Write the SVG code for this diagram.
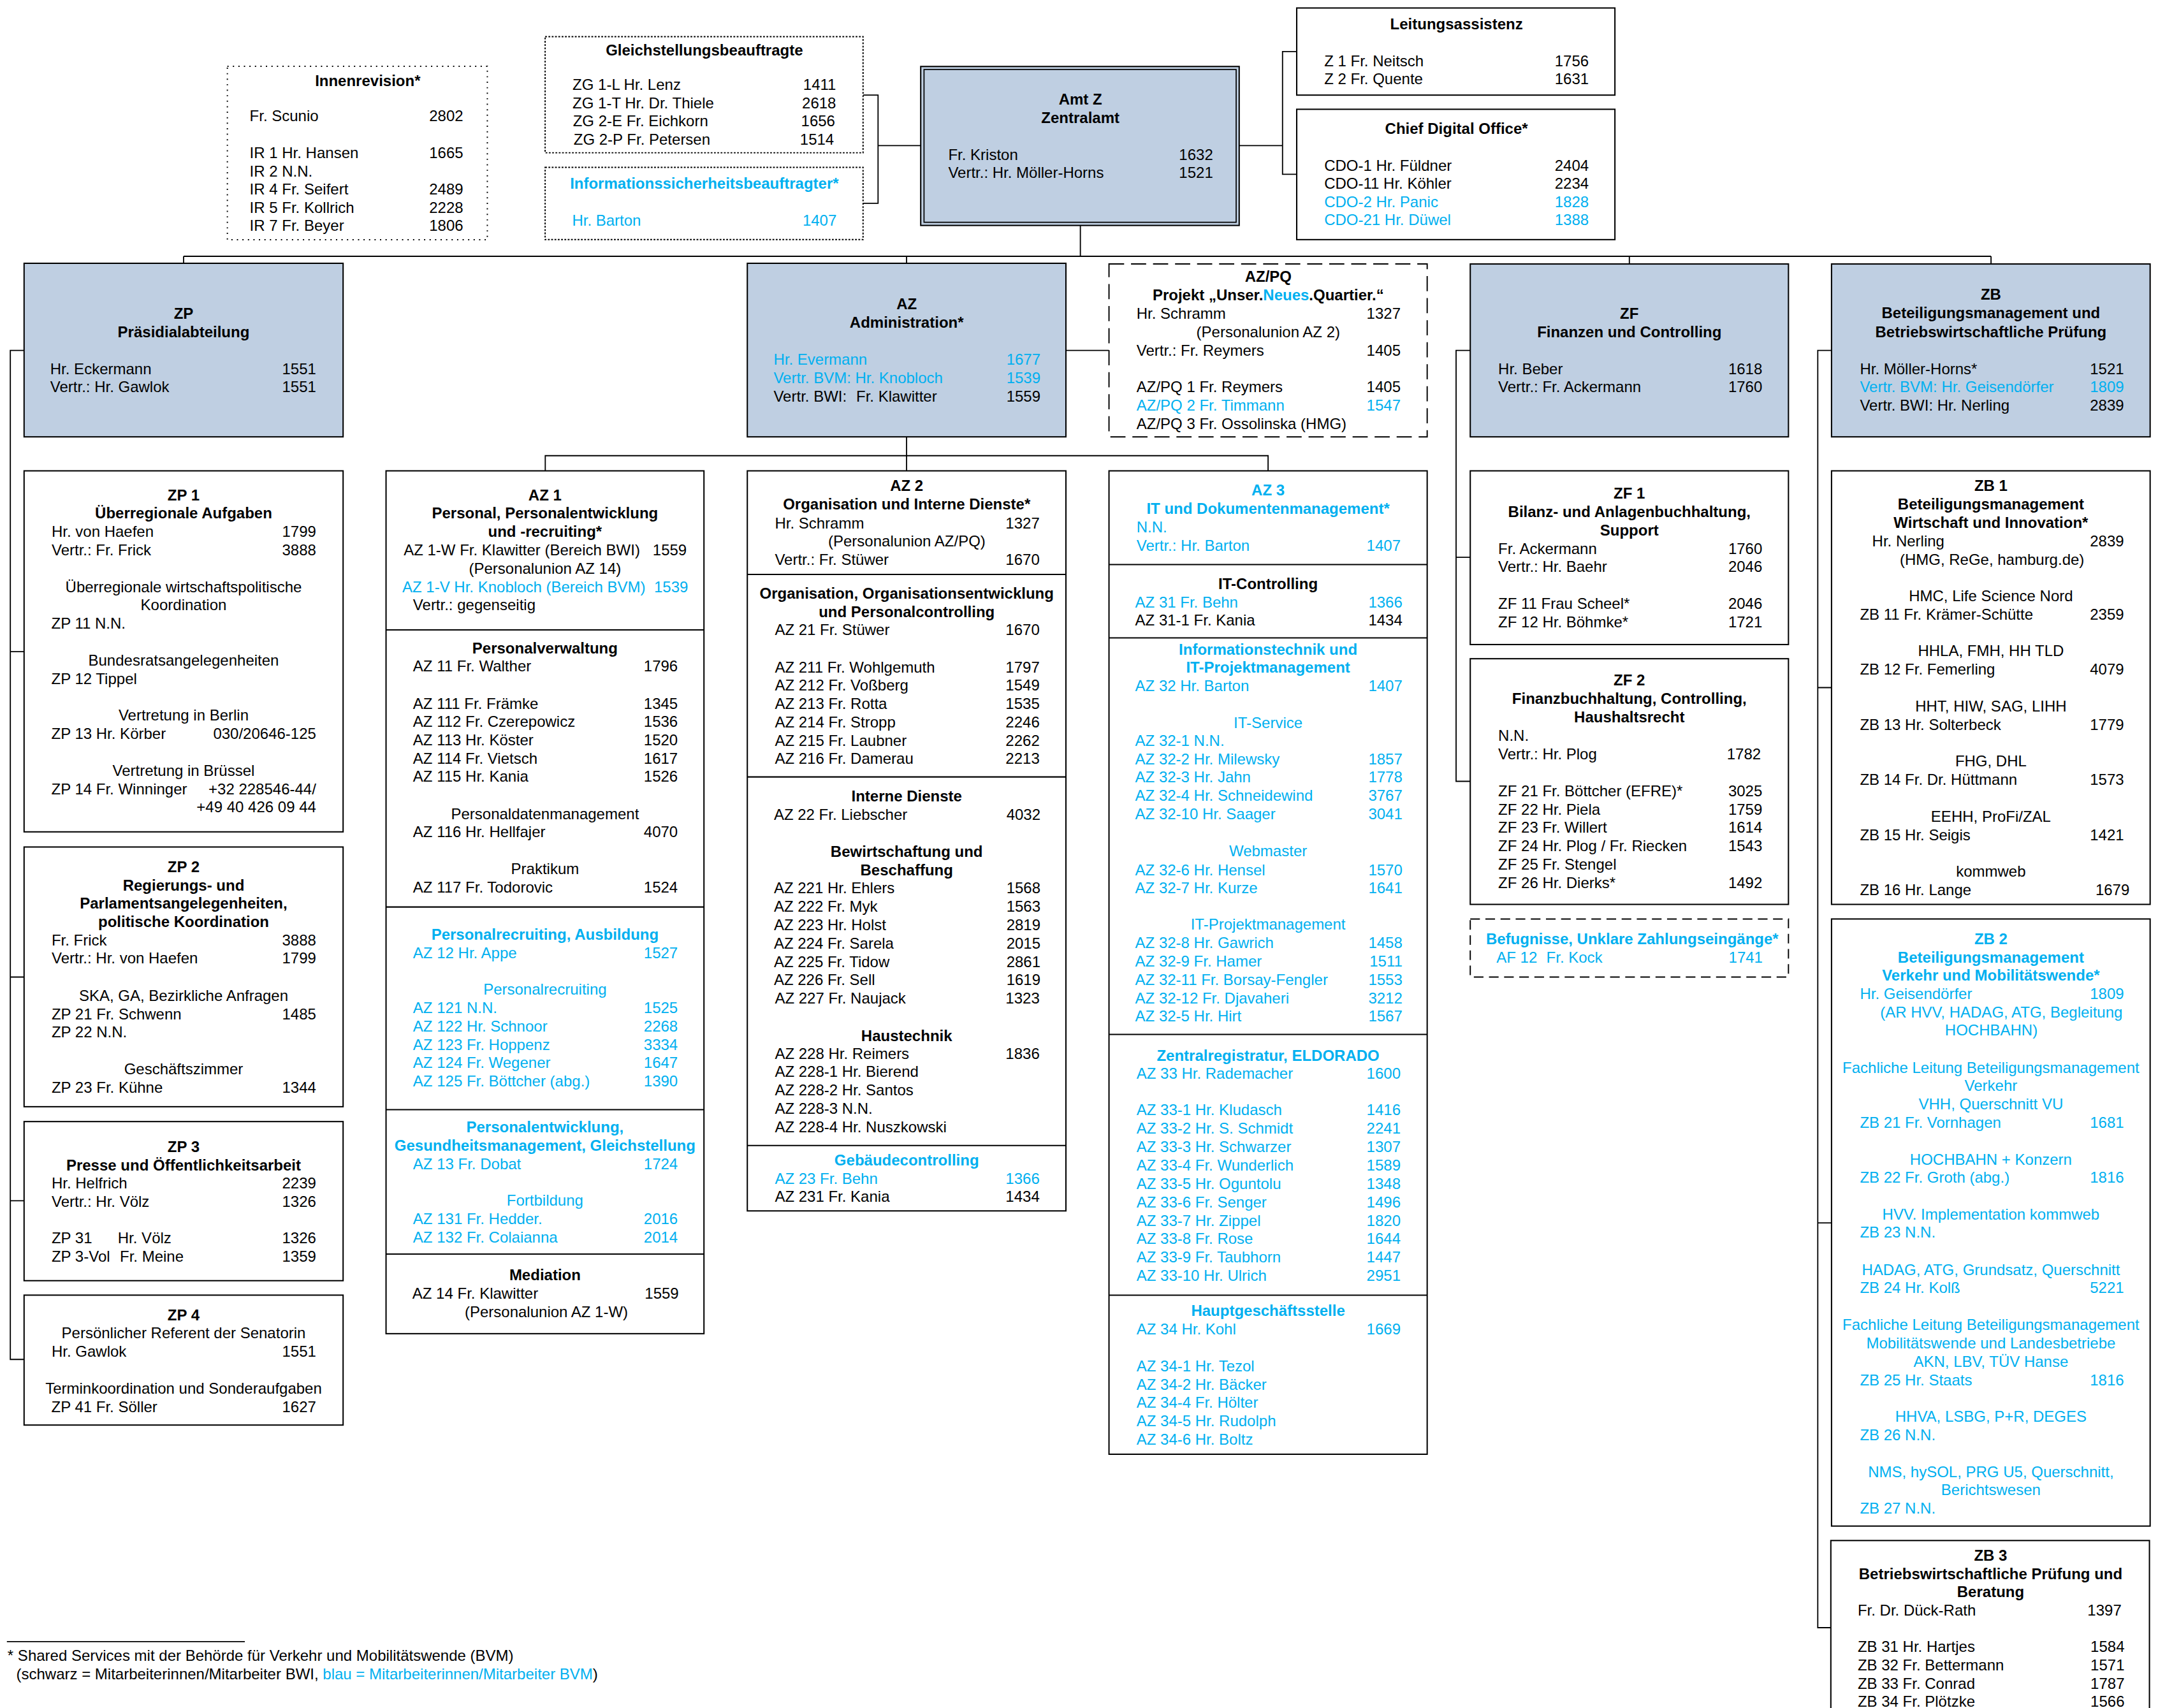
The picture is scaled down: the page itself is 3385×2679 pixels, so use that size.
<svg xmlns="http://www.w3.org/2000/svg" width="3385" height="2679" viewBox="0 0 3385 2679">
<style>
.bx{fill:#fff;stroke:#000;stroke-width:0.95}
.fl{fill:#BFCFE2;stroke:#000;stroke-width:0.95}
.d1{fill:#fff;stroke:#000;stroke-width:0.9;stroke-dasharray:0.9 3.1}
.d2{fill:#fff;stroke:#000;stroke-width:0.9;stroke-dasharray:1.3 1.1}
.d3{fill:#fff;stroke:#000;stroke-width:0.9;stroke-dasharray:11 5}
.d4{fill:#fff;stroke:#000;stroke-width:0.9;stroke-dasharray:7 4}
.dv{stroke:#000;stroke-width:0.95}
#connectors path{fill:none;stroke:#000;stroke-width:0.85}
text{font-family:"Liberation Sans",Arial,Helvetica,sans-serif;font-size:11.12px;fill:#000}
.b{font-weight:bold}
.c{text-anchor:middle}
.r{text-anchor:end}
.u{fill:#00B0F0}
</style>
<rect width="3385" height="2679" fill="#fff"/>
<g transform="scale(2.15878)">

<g id="connectors">
<path d="M133.4,186.2H1446.7M785,163.8V186.2M133.4,186.2V191.3M658.7,186.2V191.3M1183.9,186.2V191.8M1446.7,186.2V191.8"/>
<path d="M627.1,69.1H638V147.7H627.1M638,105.8H669"/>
<path d="M900.4,105.8H931.9M942.2,37.5H931.9V126.6H942.2"/>
<path d="M774.5,254.6H805.8"/>
<path d="M658.7,317.4V342.1M396.2,342.1V331.1H921.4V342.1"/>
<path d="M17.5,254.6H7.5V987.7H17.5M7.5,473.5H17.5M7.5,709.9H17.5M7.5,872.4H17.5"/>
<path d="M1068.3,254.6H1058V567.7H1068.3M1058,404.9H1068.3"/>
<path d="M1330.8,254.6H1320.8V1182.6H1330.3M1320.8,499.6H1330.8M1320.8,888.5H1330.8"/>
</g>

<g id="innenrevision">
<rect class="d1" x="165.2" y="48.2" width="188.9" height="126"/>
<text class="b c" x="267.2" y="62.5">Innenrevision*</text>
<text x="181.4" y="87.8">Fr. Scunio</text><text class="r" x="336.6" y="87.8">2802</text>
<text x="181.4" y="114.8">IR 1 Hr. Hansen</text><text class="r" x="336.6" y="114.8">1665</text>
<text x="181.4" y="128.1">IR 2 N.N.</text>
<text x="181.4" y="141.3">IR 4 Fr. Seifert</text><text class="r" x="336.6" y="141.3">2489</text>
<text x="181.4" y="154.6">IR 5 Fr. Kollrich</text><text class="r" x="336.6" y="154.6">2228</text>
<text x="181.4" y="167.8">IR 7 Fr. Beyer</text><text class="r" x="336.6" y="167.8">1806</text>
</g>

<g id="gleichstellung">
<rect class="d2" x="396.1" y="26.6" width="231" height="84.4"/>
<text class="b c" x="511.8" y="40.1">Gleichstellungsbeauftragte</text>
<text x="416" y="65.4">ZG 1-L Hr. Lenz</text><text class="r" x="607.5" y="65.4">1411</text>
<text x="416" y="78.7">ZG 1-T Hr. Dr. Thiele</text><text class="r" x="607.5" y="78.7">2618</text>
<text x="416.3" y="91.9">ZG 2-E Fr. Eichkorn</text><text class="r" x="606.8" y="91.9">1656</text>
<text x="416.8" y="105.2">ZG 2-P Fr. Petersen</text><text class="r" x="606" y="105.2">1514</text>
</g>

<g id="infosicherheit">
<rect class="d2" x="396.1" y="121.6" width="231" height="52.5"/>
<text class="b c u" x="511.8" y="137.2">Informationssicherheitsbeauftragter*</text>
<text class="u" x="415.7" y="164.1">Hr. Barton</text><text class="r u" x="607.9" y="164.1">1407</text>
</g>

<g id="amt-z">
<rect class="fl" x="669" y="48.3" width="231.4" height="115.5"/>
<rect fill="none" stroke="#000" stroke-width="0.8" x="671.4" y="50.5" width="226.8" height="111"/>
<text class="b c" x="785" y="76">Amt Z</text>
<text class="b c" x="785" y="89.3">Zentralamt</text>
<text x="689" y="116.1">Fr. Kriston</text><text class="r" x="881.4" y="116.1">1632</text>
<text x="689" y="129.4">Vertr.: Hr. Möller-Horns</text><text class="r" x="881.4" y="129.4">1521</text>
</g>

<g id="leitungsassistenz">
<rect class="bx" x="942.2" y="5.8" width="231.2" height="63.3"/>
<text class="b c" x="1058.3" y="21.1">Leitungsassistenz</text>
<text x="962.2" y="48">Z 1 Fr. Neitsch</text><text class="r" x="1154.4" y="48">1756</text>
<text x="962.2" y="61.3">Z 2 Fr. Quente</text><text class="r" x="1154.4" y="61.3">1631</text>
</g>

<g id="cdo">
<rect class="bx" x="942.2" y="79.4" width="231.2" height="94.7"/>
<text class="b c" x="1058.3" y="97.1">Chief Digital Office*</text>
<text x="962.2" y="124">CDO-1 Hr. Füldner</text><text class="r" x="1154.4" y="124">2404</text>
<text x="962.2" y="137.2">CDO-11 Hr. Köhler</text><text class="r" x="1154.4" y="137.2">2234</text>
<text class="u" x="962.2" y="150.5">CDO-2 Hr. Panic</text><text class="r u" x="1154.4" y="150.5">1828</text>
<text class="u" x="962.2" y="163.7">CDO-21 Hr. Düwel</text><text class="r u" x="1154.4" y="163.7">1388</text>
</g>

<g id="zp">
<rect class="fl" x="17.5" y="191.3" width="231.8" height="126.1"/>
<text class="b c" x="133.4" y="231.6">ZP</text>
<text class="b c" x="133.4" y="245">Präsidialabteilung</text>
<text x="36.5" y="271.7">Hr. Eckermann</text><text class="r" x="229.7" y="271.7">1551</text>
<text x="36.5" y="284.9">Vertr.: Hr. Gawlok</text><text class="r" x="229.7" y="284.9">1551</text>
</g>

<g id="zp1">
<rect class="bx" x="17.5" y="342.1" width="231.8" height="262.3"/>
<text class="b c" x="133.4" y="363.5">ZP 1</text>
<text class="b c" x="133.4" y="376.8">Überregionale Aufgaben</text>
<text x="37.5" y="390">Hr. von Haefen</text><text class="r" x="229.7" y="390">1799</text>
<text x="37.5" y="403.3">Vertr.: Fr. Frick</text><text class="r" x="229.7" y="403.3">3888</text>
<text class="c" x="133.4" y="430.3">Überregionale wirtschaftspolitische</text>
<text class="c" x="133.4" y="443.5">Koordination</text>
<text x="37.3" y="456.8">ZP 11 N.N.</text>
<text class="c" x="133.4" y="483.6">Bundesratsangelegenheiten</text>
<text x="37.3" y="496.9">ZP 12 Tippel</text>
<text class="c" x="133.4" y="523.6">Vertretung in Berlin</text>
<text x="37.3" y="536.9">ZP 13 Hr. Körber</text><text class="r" x="229.7" y="536.9">030/20646-125</text>
<text class="c" x="133.4" y="563.8">Vertretung in Brüssel</text>
<text x="37.3" y="577">ZP 14 Fr. Winninger</text><text class="r" x="229.7" y="577">+32 228546-44/</text>
<text class="r" x="229.7" y="590.3">+49 40 426 09 44</text>
</g>

<g id="zp2">
<rect class="bx" x="17.5" y="615.4" width="231.8" height="188.7"/>
<text class="b c" x="133.4" y="633.7">ZP 2</text>
<text class="b c" x="133.4" y="647">Regierungs- und</text>
<text class="b c" x="133.4" y="660.2">Parlamentsangelegenheiten,</text>
<text class="b c" x="133.4" y="673.5">politische Koordination</text>
<text x="37.5" y="686.8">Fr. Frick</text><text class="r" x="229.7" y="686.8">3888</text>
<text x="37.5" y="700">Vertr.: Hr. von Haefen</text><text class="r" x="229.7" y="700">1799</text>
<text class="c" x="133.4" y="727.4">SKA, GA, Bezirkliche Anfragen</text>
<text x="37.5" y="740.5">ZP 21 Fr. Schwenn</text><text class="r" x="229.7" y="740.5">1485</text>
<text x="37.5" y="753.8">ZP 22 N.N.</text>
<text class="c" x="133.4" y="780.6">Geschäftszimmer</text>
<text x="37.5" y="793.9">ZP 23 Fr. Kühne</text><text class="r" x="229.7" y="793.9">1344</text>
</g>

<g id="zp3">
<rect class="bx" x="17.5" y="814.9" width="231.8" height="115.6"/>
<text class="b c" x="133.4" y="837.1">ZP 3</text>
<text class="b c" x="133.4" y="850.3">Presse und Öffentlichkeitsarbeit</text>
<text x="37.5" y="863.6">Hr. Helfrich</text><text class="r" x="229.7" y="863.6">2239</text>
<text x="37.5" y="876.9">Vertr.: Hr. Völz</text><text class="r" x="229.7" y="876.9">1326</text>
<text x="37.5" y="903.5">ZP 31<tspan x="85.6">Hr. Völz</tspan></text><text class="r" x="229.7" y="903.5">1326</text>
<text x="37.5" y="916.8">ZP 3-Vol<tspan x="87.1">Fr. Meine</tspan></text><text class="r" x="229.7" y="916.8">1359</text>
</g>

<g id="zp4">
<rect class="bx" x="17.5" y="941" width="231.8" height="94.4"/>
<text class="b c" x="133.4" y="959.2">ZP 4</text>
<text class="c" x="133.4" y="972.5">Persönlicher Referent der Senatorin</text>
<text x="37.5" y="985.8">Hr. Gawlok</text><text class="r" x="229.7" y="985.8">1551</text>
<text class="c" x="133.4" y="1012.6">Terminkoordination und Sonderaufgaben</text>
<text x="37.3" y="1025.9">ZP 41 Fr. Söller</text><text class="r" x="229.7" y="1025.9">1627</text>
</g>

<g id="az">
<rect class="fl" x="543" y="191.3" width="231.5" height="126.1"/>
<text class="b c" x="658.8" y="224.8">AZ</text>
<text class="b c" x="658.8" y="238.1">Administration*</text>
<text class="u" x="562.1" y="265.1">Hr. Evermann</text><text class="r u" x="756" y="265.1">1677</text>
<text class="u" x="562.1" y="278.4">Vertr. BVM: Hr. Knobloch</text><text class="r u" x="756" y="278.4">1539</text>
<text x="562.1" y="291.6">Vertr. BWI:<tspan x="622.1">Fr. Klawitter</tspan></text><text class="r" x="756" y="291.6">1559</text>
</g>

<g id="az1">
<rect class="bx" x="280.5" y="342.1" width="231" height="626.9"/>
<line class="dv" x1="280.5" y1="457.7" x2="511.5" y2="457.7"/>
<line class="dv" x1="280.5" y1="659" x2="511.5" y2="659"/>
<line class="dv" x1="280.5" y1="806.2" x2="511.5" y2="806.2"/>
<line class="dv" x1="280.5" y1="911.2" x2="511.5" y2="911.2"/>
<text class="b c" x="396" y="363.5">AZ 1</text>
<text class="b c" x="396" y="376.8">Personal, Personalentwicklung</text>
<text class="b c" x="396" y="390.1">und -recruiting*</text>
<text x="293.3" y="403.6">AZ 1-W Fr. Klawitter (Bereich BWI)</text><text class="r" x="499" y="403.6">1559</text>
<text class="c" x="396" y="416.9">(Personalunion AZ 14)</text>
<text class="u" x="292.3" y="430.2">AZ 1-V Hr. Knobloch (Bereich BVM)</text><text class="r u" x="500" y="430.2">1539</text>
<text x="300.1" y="443.5">Vertr.: gegenseitig</text>
<text class="b c" x="396" y="474.6">Personalverwaltung</text>
<text x="300.1" y="488">AZ 11 Fr. Walther</text><text class="r" x="492.5" y="488">1796</text>
<text x="300.1" y="514.9">AZ 111 Fr. Främke</text><text class="r" x="492.5" y="514.9">1345</text>
<text x="300.1" y="528.2">AZ 112 Fr. Czerepowicz</text><text class="r" x="492.5" y="528.2">1536</text>
<text x="300.1" y="541.5">AZ 113 Hr. Köster</text><text class="r" x="492.5" y="541.5">1520</text>
<text x="300.1" y="554.8">AZ 114 Fr. Vietsch</text><text class="r" x="492.5" y="554.8">1617</text>
<text x="300.1" y="568.1">AZ 115 Hr. Kania</text><text class="r" x="492.5" y="568.1">1526</text>
<text class="c" x="396" y="595.1">Personaldatenmanagement</text>
<text x="300.1" y="608.4">AZ 116 Hr. Hellfajer</text><text class="r" x="492.5" y="608.4">4070</text>
<text class="c" x="396" y="635.3">Praktikum</text>
<text x="300.1" y="648.4">AZ 117 Fr. Todorovic</text><text class="r" x="492.5" y="648.4">1524</text>
<text class="b c u" x="396" y="682.7">Personalrecruiting, Ausbildung</text>
<text class="u" x="300.1" y="696.1">AZ 12 Hr. Appe</text><text class="r u" x="492.5" y="696.1">1527</text>
<text class="c u" x="396" y="722.8">Personalrecruiting</text>
<text class="u" x="300.1" y="736">AZ 121 N.N.</text><text class="r u" x="492.5" y="736">1525</text>
<text class="u" x="300.1" y="749.4">AZ 122 Hr. Schnoor</text><text class="r u" x="492.5" y="749.4">2268</text>
<text class="u" x="300.1" y="762.7">AZ 123 Fr. Hoppenz</text><text class="r u" x="492.5" y="762.7">3334</text>
<text class="u" x="300.1" y="776">AZ 124 Fr. Wegener</text><text class="r u" x="492.5" y="776">1647</text>
<text class="u" x="300.1" y="789.4">AZ 125 Fr. Böttcher (abg.)</text><text class="r u" x="492.5" y="789.4">1390</text>
<text class="b c u" x="396" y="822.8">Personalentwicklung,</text>
<text class="b c u" x="396" y="836.2">Gesundheitsmanagement, Gleichstellung</text>
<text class="u" x="300.1" y="849.5">AZ 13 Fr. Dobat</text><text class="r u" x="492.5" y="849.5">1724</text>
<text class="c u" x="396" y="876.1">Fortbildung</text>
<text class="u" x="300.1" y="889.6">AZ 131 Fr. Hedder.</text><text class="r u" x="492.5" y="889.6">2016</text>
<text class="u" x="300.1" y="902.8">AZ 132 Fr. Colaianna</text><text class="r u" x="492.5" y="902.8">2014</text>
<text class="b c" x="396" y="930.2">Mediation</text>
<text x="299.6" y="943.4">AZ 14 Fr. Klawitter</text><text class="r" x="493.2" y="943.4">1559</text>
<text class="c" x="397" y="956.8">(Personalunion AZ 1-W)</text>
</g>

<g id="az2">
<rect class="bx" x="543" y="342.1" width="231.5" height="537.7"/>
<line class="dv" x1="543" y1="417.4" x2="774.5" y2="417.4"/>
<line class="dv" x1="543" y1="564.5" x2="774.5" y2="564.5"/>
<line class="dv" x1="543" y1="832.3" x2="774.5" y2="832.3"/>
<text class="b c" x="658.8" y="356.9">AZ 2</text>
<text class="b c" x="658.8" y="370.3">Organisation und Interne Dienste*</text>
<text x="563" y="383.8">Hr. Schramm</text><text class="r" x="755.4" y="383.8">1327</text>
<text class="c" x="658.9" y="397.1">(Personalunion AZ/PQ)</text>
<text x="563" y="410.6">Vertr.: Fr. Stüwer</text><text class="r" x="755.4" y="410.6">1670</text>
<text class="b c" x="658.8" y="434.8">Organisation, Organisationsentwicklung</text>
<text class="b c" x="658.8" y="448.2">und Personalcontrolling</text>
<text x="563" y="461.6">AZ 21 Fr. Stüwer</text><text class="r" x="755.4" y="461.6">1670</text>
<text x="563" y="488.6">AZ 211 Fr. Wohlgemuth</text><text class="r" x="755.4" y="488.6">1797</text>
<text x="563" y="501.9">AZ 212 Fr. Voßberg</text><text class="r" x="755.4" y="501.9">1549</text>
<text x="563" y="515.2">AZ 213 Fr. Rotta</text><text class="r" x="755.4" y="515.2">1535</text>
<text x="563" y="528.5">AZ 214 Fr. Stropp</text><text class="r" x="755.4" y="528.5">2246</text>
<text x="563" y="541.8">AZ 215 Fr. Laubner</text><text class="r" x="755.4" y="541.8">2262</text>
<text x="563" y="555.1">AZ 216 Fr. Damerau</text><text class="r" x="755.4" y="555.1">2213</text>
<text class="b c" x="658.8" y="582.5">Interne Dienste</text>
<text x="562.3" y="595.7">AZ 22 Fr. Liebscher</text><text class="r" x="756" y="595.7">4032</text>
<text class="b c" x="658.8" y="622.6">Bewirtschaftung und</text>
<text class="b c" x="658.8" y="636">Beschaffung</text>
<text x="562.3" y="649.2">AZ 221 Hr. Ehlers</text><text class="r" x="756" y="649.2">1568</text>
<text x="562.3" y="662.6">AZ 222 Fr. Myk</text><text class="r" x="756" y="662.6">1563</text>
<text x="562.3" y="675.9">AZ 223 Hr. Holst</text><text class="r" x="756" y="675.9">2819</text>
<text x="562.3" y="689.2">AZ 224 Fr. Sarela</text><text class="r" x="756" y="689.2">2015</text>
<text x="562.3" y="702.6">AZ 225 Fr. Tidow</text><text class="r" x="756" y="702.6">2861</text>
<text x="562.3" y="715.9">AZ 226 Fr. Sell</text><text class="r" x="756" y="715.9">1619</text>
<text x="563" y="729.3">AZ 227 Fr. Naujack</text><text class="r" x="755.4" y="729.3">1323</text>
<text class="b c" x="658.8" y="756.3">Haustechnik</text>
<text x="563" y="769.3">AZ 228 Hr. Reimers</text><text class="r" x="755.4" y="769.3">1836</text>
<text x="563" y="782.6">AZ 228-1 Hr. Bierend</text>
<text x="563" y="795.9">AZ 228-2 Hr. Santos</text>
<text x="563" y="809.2">AZ 228-3 N.N.</text>
<text x="563" y="822.5">AZ 228-4 Hr. Nuszkowski</text>
<text class="b c u" x="658.8" y="846.8">Gebäudecontrolling</text>
<text class="u" x="563" y="860.3">AZ 23 Fr. Behn</text><text class="r u" x="755.4" y="860.3">1366</text>
<text x="563" y="873.2">AZ 231 Fr. Kania</text><text class="r" x="755.4" y="873.2">1434</text>
</g>

<g id="az-pq">
<rect class="d3" x="805.8" y="191.8" width="231.2" height="125.6"/>
<text class="b c" x="921.5" y="204.7">AZ/PQ</text>
<text class="b c" x="921.5" y="218.2">Projekt „Unser.<tspan class="u">Neues</tspan>.Quartier.“</text>
<text x="825.8" y="231.6">Hr. Schramm</text><text class="r" x="1017.7" y="231.6">1327</text>
<text class="c" x="921.5" y="245.1">(Personalunion AZ 2)</text>
<text x="825.8" y="258.5">Vertr.: Fr. Reymers</text><text class="r" x="1017.7" y="258.5">1405</text>
<text x="825.8" y="284.9">AZ/PQ 1 Fr. Reymers</text><text class="r" x="1017.7" y="284.9">1405</text>
<text class="u" x="825.8" y="298.4">AZ/PQ 2 Fr. Timmann</text><text class="r u" x="1017.7" y="298.4">1547</text>
<text x="825.8" y="311.8">AZ/PQ 3 Fr. Ossolinska (HMG)</text>
</g>

<g id="az3">
<rect class="bx" x="805.8" y="342.1" width="231.2" height="714.5"/>
<line class="dv" x1="805.8" y1="410.2" x2="1037" y2="410.2"/>
<line class="dv" x1="805.8" y1="463.5" x2="1037" y2="463.5"/>
<line class="dv" x1="805.8" y1="751.6" x2="1037" y2="751.6"/>
<line class="dv" x1="805.8" y1="941" x2="1037" y2="941"/>
<text class="b c u" x="921.4" y="360.1">AZ 3</text>
<text class="b c u" x="921.4" y="373.5">IT und Dokumentenmanagement*</text>
<text class="u" x="825.8" y="387">N.N.</text>
<text class="u" x="825.8" y="400.4">Vertr.: Hr. Barton</text><text class="r u" x="1017.7" y="400.4">1407</text>
<text class="b c" x="921.4" y="427.9">IT-Controlling</text>
<text class="u" x="824.8" y="441.4">AZ 31 Fr. Behn</text><text class="r u" x="1019" y="441.4">1366</text>
<text x="824.8" y="454.3">AZ 31-1 Fr. Kania</text><text class="r" x="1019" y="454.3">1434</text>
<text class="b c u" x="921.4" y="475.6">Informationstechnik und</text>
<text class="b c u" x="921.4" y="488.8">IT-Projektmanagement</text>
<text class="u" x="824.8" y="502">AZ 32 Hr. Barton</text><text class="r u" x="1019" y="502">1407</text>
<text class="c u" x="921.4" y="528.9">IT-Service</text>
<text class="u" x="824.8" y="542.1">AZ 32-1 N.N.</text>
<text class="u" x="824.8" y="555.4">AZ 32-2 Hr. Milewsky</text><text class="r u" x="1019" y="555.4">1857</text>
<text class="u" x="824.8" y="568.6">AZ 32-3 Hr. Jahn</text><text class="r u" x="1019" y="568.6">1778</text>
<text class="u" x="824.8" y="581.9">AZ 32-4 Hr. Schneidewind</text><text class="r u" x="1019" y="581.9">3767</text>
<text class="u" x="824.8" y="595.3">AZ 32-10 Hr. Saager</text><text class="r u" x="1019" y="595.3">3041</text>
<text class="c u" x="921.4" y="622.3">Webmaster</text>
<text class="u" x="824.8" y="635.8">AZ 32-6 Hr. Hensel</text><text class="r u" x="1019" y="635.8">1570</text>
<text class="u" x="824.8" y="649">AZ 32-7 Hr. Kurze</text><text class="r u" x="1019" y="649">1641</text>
<text class="c u" x="921.4" y="675.6">IT-Projektmanagement</text>
<text class="u" x="824.8" y="689">AZ 32-8 Hr. Gawrich</text><text class="r u" x="1019" y="689">1458</text>
<text class="u" x="824.8" y="702.3">AZ 32-9 Fr. Hamer</text><text class="r u" x="1019" y="702.3">1511</text>
<text class="u" x="824.8" y="715.6">AZ 32-11 Fr. Borsay-Fengler</text><text class="r u" x="1019" y="715.6">1553</text>
<text class="u" x="824.8" y="728.9">AZ 32-12 Fr. Djavaheri</text><text class="r u" x="1019" y="728.9">3212</text>
<text class="u" x="824.8" y="742.2">AZ 32-5 Hr. Hirt</text><text class="r u" x="1019" y="742.2">1567</text>
<text class="b c u" x="921.4" y="770.6">Zentralregistratur, ELDORADO</text>
<text class="u" x="825.8" y="784">AZ 33 Hr. Rademacher</text><text class="r u" x="1017.7" y="784">1600</text>
<text class="u" x="825.8" y="810.4">AZ 33-1 Hr. Kludasch</text><text class="r u" x="1017.7" y="810.4">1416</text>
<text class="u" x="825.8" y="823.8">AZ 33-2 Hr. S. Schmidt</text><text class="r u" x="1017.7" y="823.8">2241</text>
<text class="u" x="825.8" y="837.2">AZ 33-3 Hr. Schwarzer</text><text class="r u" x="1017.7" y="837.2">1307</text>
<text class="u" x="825.8" y="850.5">AZ 33-4 Fr. Wunderlich</text><text class="r u" x="1017.7" y="850.5">1589</text>
<text class="u" x="825.8" y="863.9">AZ 33-5 Hr. Oguntolu</text><text class="r u" x="1017.7" y="863.9">1348</text>
<text class="u" x="825.8" y="877.2">AZ 33-6 Fr. Senger</text><text class="r u" x="1017.7" y="877.2">1496</text>
<text class="u" x="825.8" y="890.6">AZ 33-7 Hr. Zippel</text><text class="r u" x="1017.7" y="890.6">1820</text>
<text class="u" x="825.8" y="903.9">AZ 33-8 Fr. Rose</text><text class="r u" x="1017.7" y="903.9">1644</text>
<text class="u" x="825.8" y="917.3">AZ 33-9 Fr. Taubhorn</text><text class="r u" x="1017.7" y="917.3">1447</text>
<text class="u" x="825.8" y="930.6">AZ 33-10 Hr. Ulrich</text><text class="r u" x="1017.7" y="930.6">2951</text>
<text class="b c u" x="921.4" y="956">Hauptgeschäftsstelle</text>
<text class="u" x="825.8" y="969.5">AZ 34 Hr. Kohl</text><text class="r u" x="1017.7" y="969.5">1669</text>
<text class="u" x="825.8" y="996.2">AZ 34-1 Hr. Tezol</text>
<text class="u" x="825.8" y="1009.6">AZ 34-2 Hr. Bäcker</text>
<text class="u" x="825.8" y="1023">AZ 34-4 Fr. Hölter</text>
<text class="u" x="825.8" y="1036.4">AZ 34-5 Hr. Rudolph</text>
<text class="u" x="825.8" y="1049.8">AZ 34-6 Hr. Boltz</text>
</g>

<g id="zf">
<rect class="fl" x="1068.3" y="191.8" width="231.2" height="125.6"/>
<text class="b c" x="1183.9" y="231.6">ZF</text>
<text class="b c" x="1183.9" y="245">Finanzen und Controlling</text>
<text x="1088.6" y="271.7">Hr. Beber</text><text class="r" x="1280.5" y="271.7">1618</text>
<text x="1088.6" y="284.9">Vertr.: Fr. Ackermann</text><text class="r" x="1280.5" y="284.9">1760</text>
</g>

<g id="zf1">
<rect class="bx" x="1068.3" y="342.1" width="231.2" height="126.2"/>
<text class="b c" x="1183.9" y="362.2">ZF 1</text>
<text class="b c" x="1183.9" y="375.6">Bilanz- und Anlagenbuchhaltung,</text>
<text class="b c" x="1183.9" y="389">Support</text>
<text x="1088.6" y="402.4">Fr. Ackermann</text><text class="r" x="1280.5" y="402.4">1760</text>
<text x="1088.6" y="415.7">Vertr.: Hr. Baehr</text><text class="r" x="1280.5" y="415.7">2046</text>
<text x="1088.6" y="442.6">ZF 11 Frau Scheel*</text><text class="r" x="1280.5" y="442.6">2046</text>
<text x="1088.6" y="455.9">ZF 12 Hr. Böhmke*</text><text class="r" x="1280.5" y="455.9">1721</text>
</g>

<g id="zf2">
<rect class="bx" x="1068.3" y="478.6" width="231.2" height="178.5"/>
<text class="b c" x="1183.9" y="498.1">ZF 2</text>
<text class="b c" x="1183.9" y="511.5">Finanzbuchhaltung, Controlling,</text>
<text class="b c" x="1183.9" y="524.9">Haushaltsrecht</text>
<text x="1088.6" y="538.3">N.N.</text>
<text x="1088.6" y="551.6">Vertr.: Hr. Plog</text><text class="r" x="1279.5" y="551.6">1782</text>
<text x="1088.6" y="578.5">ZF 21 Fr. Böttcher (EFRE)*</text><text class="r" x="1280.5" y="578.5">3025</text>
<text x="1088.6" y="591.8">ZF 22 Hr. Piela</text><text class="r" x="1280.5" y="591.8">1759</text>
<text x="1088.6" y="605.2">ZF 23 Fr. Willert</text><text class="r" x="1280.5" y="605.2">1614</text>
<text x="1088.6" y="618.5">ZF 24 Hr. Plog / Fr. Riecken</text><text class="r" x="1280.5" y="618.5">1543</text>
<text x="1088.6" y="631.9">ZF 25 Fr. Stengel</text>
<text x="1088.6" y="645.2">ZF 26 Hr. Dierks*</text><text class="r" x="1280.5" y="645.2">1492</text>
</g>

<g id="befugnisse">
<rect class="d4" x="1068.3" y="667.7" width="231.2" height="42.2"/>
<text class="b c u" x="1186" y="686.2">Befugnisse, Unklare Zahlungseingänge*</text>
<text class="u" x="1087.3" y="699.3">AF 12<tspan x="1123.6">Fr. Kock</tspan></text><text class="r u" x="1280.8" y="699.3">1741</text>
</g>

<g id="zb">
<rect class="fl" x="1330.8" y="191.8" width="231.5" height="125.6"/>
<text class="b c" x="1446.6" y="217.9">ZB</text>
<text class="b c" x="1446.6" y="231.3">Beteiligungsmanagement und</text>
<text class="b c" x="1446.6" y="244.9">Betriebswirtschaftliche Prüfung</text>
<text x="1351.4" y="271.7">Hr. Möller-Horns*</text><text class="r" x="1543.3" y="271.7">1521</text>
<text class="u" x="1351.4" y="284.9">Vertr. BVM: Hr. Geisendörfer</text><text class="r u" x="1543.3" y="284.9">1809</text>
<text x="1351.4" y="298.2">Vertr. BWI: Hr. Nerling</text><text class="r" x="1543.3" y="298.2">2839</text>
</g>

<g id="zb1">
<rect class="bx" x="1330.8" y="342.1" width="231.5" height="315"/>
<text class="b c" x="1446.6" y="356.7">ZB 1</text>
<text class="b c" x="1446.6" y="370.1">Beteiligungsmanagement</text>
<text class="b c" x="1446.6" y="383.5">Wirtschaft und Innovation*</text>
<text x="1360.3" y="396.8">Hr. Nerling</text><text class="r" x="1543.3" y="396.8">2839</text>
<text class="c" x="1447.4" y="410.2">(HMG, ReGe, hamburg.de)</text>
<text class="c" x="1446.6" y="436.9">HMC, Life Science Nord</text>
<text x="1351.4" y="450.1">ZB 11 Fr. Krämer-Schütte</text><text class="r" x="1543.3" y="450.1">2359</text>
<text class="c" x="1446.6" y="476.7">HHLA, FMH, HH TLD</text>
<text x="1351.4" y="490.2">ZB 12 Fr. Femerling</text><text class="r" x="1543.3" y="490.2">4079</text>
<text class="c" x="1446.6" y="516.8">HHT, HIW, SAG, LIHH</text>
<text x="1351.4" y="530.3">ZB 13 Hr. Solterbeck</text><text class="r" x="1543.3" y="530.3">1779</text>
<text class="c" x="1446.6" y="556.9">FHG, DHL</text>
<text x="1351.4" y="570.4">ZB 14 Fr. Dr. Hüttmann</text><text class="r" x="1543.3" y="570.4">1573</text>
<text class="c" x="1446.6" y="597">EEHH, ProFi/ZAL</text>
<text x="1351.4" y="610.4">ZB 15 Hr. Seigis</text><text class="r" x="1543.3" y="610.4">1421</text>
<text class="c" x="1446.6" y="637.1">kommweb</text>
<text x="1351.4" y="650.5">ZB 16 Hr. Lange</text><text class="r" x="1547.3" y="650.5">1679</text>
</g>

<g id="zb2">
<rect class="bx" x="1330.8" y="667.7" width="231.5" height="441.1"/>
<text class="b c u" x="1446.6" y="685.9">ZB 2</text>
<text class="b c u" x="1446.6" y="699.3">Beteiligungsmanagement</text>
<text class="b c u" x="1446.6" y="712.5">Verkehr und Mobilitätswende*</text>
<text class="u" x="1351.4" y="725.7">Hr. Geisendörfer</text><text class="r u" x="1543.3" y="725.7">1809</text>
<text class="c u" x="1454.2" y="739.2">(AR HVV, HADAG, ATG, Begleitung</text>
<text class="c u" x="1446.9" y="752.4">HOCHBAHN)</text>
<text class="c u" x="1446.6" y="779.5">Fachliche Leitung Beteiligungsmanagement</text>
<text class="c u" x="1446.6" y="792.7">Verkehr</text>
<text class="c u" x="1446.6" y="805.9">VHH, Querschnitt VU</text>
<text class="u" x="1351.4" y="819.4">ZB 21 Fr. Vornhagen</text><text class="r u" x="1543.3" y="819.4">1681</text>
<text class="c u" x="1446.6" y="846.3">HOCHBAHN + Konzern</text>
<text class="u" x="1351.4" y="859.5">ZB 22 Fr. Groth (abg.)</text><text class="r u" x="1543.3" y="859.5">1816</text>
<text class="c u" x="1446.6" y="886.1">HVV. Implementation kommweb</text>
<text class="u" x="1351.4" y="899.3">ZB 23 N.N.</text>
<text class="c u" x="1446.6" y="926.3">HADAG, ATG, Grundsatz, Querschnitt</text>
<text class="u" x="1351.4" y="939.4">ZB 24 Hr. Kolß</text><text class="r u" x="1543.3" y="939.4">5221</text>
<text class="c u" x="1446.6" y="966.3">Fachliche Leitung Beteiligungsmanagement</text>
<text class="c u" x="1446.6" y="979.5">Mobilitätswende und Landesbetriebe</text>
<text class="c u" x="1446.6" y="993">AKN, LBV, TÜV Hanse</text>
<text class="u" x="1351.4" y="1006.4">ZB 25 Hr. Staats</text><text class="r u" x="1543.3" y="1006.4">1816</text>
<text class="c u" x="1446.6" y="1032.8">HHVA, LSBG, P+R, DEGES</text>
<text class="u" x="1351.4" y="1046.3">ZB 26 N.N.</text>
<text class="c u" x="1446.6" y="1073.2">NMS, hySOL, PRG U5, Querschnitt,</text>
<text class="c u" x="1446.6" y="1086.4">Berichtswesen</text>
<text class="u" x="1351.4" y="1099.5">ZB 27 N.N.</text>
</g>

<g id="zb3">
<rect class="bx" x="1330.3" y="1119.3" width="231.5" height="140"/>
<text class="b c" x="1446.4" y="1133.8">ZB 3</text>
<text class="b c" x="1446.4" y="1147.3">Betriebswirtschaftliche Prüfung und</text>
<text class="b c" x="1446.4" y="1160.4">Beratung</text>
<text x="1349.8" y="1173.7">Fr. Dr. Dück-Rath</text><text class="r" x="1541.5" y="1173.7">1397</text>
<text x="1349.8" y="1200.3">ZB 31 Hr. Hartjes</text><text class="r" x="1543.7" y="1200.3">1584</text>
<text x="1349.8" y="1213.6">ZB 32 Fr. Bettermann</text><text class="r" x="1543.7" y="1213.6">1571</text>
<text x="1349.8" y="1226.9">ZB 33 Fr. Conrad</text><text class="r" x="1543.7" y="1226.9">1787</text>
<text x="1349.8" y="1240.2">ZB 34 Fr. Plötzke</text><text class="r" x="1543.7" y="1240.2">1566</text>
</g>

<g id="footnote">
<line x1="5" y1="1192.7" x2="177.9" y2="1192.7" stroke="#000" stroke-width="0.8"/>
<text x="5.5" y="1206.7">* Shared Services mit der Behörde für Verkehr und Mobilitätswende (BVM)</text>
<text x="11.8" y="1220.1">(schwarz = Mitarbeiterinnen/Mitarbeiter BWI, <tspan class="u">blau = Mitarbeiterinnen/Mitarbeiter BVM</tspan>)</text>
</g>

</g>
</svg>
